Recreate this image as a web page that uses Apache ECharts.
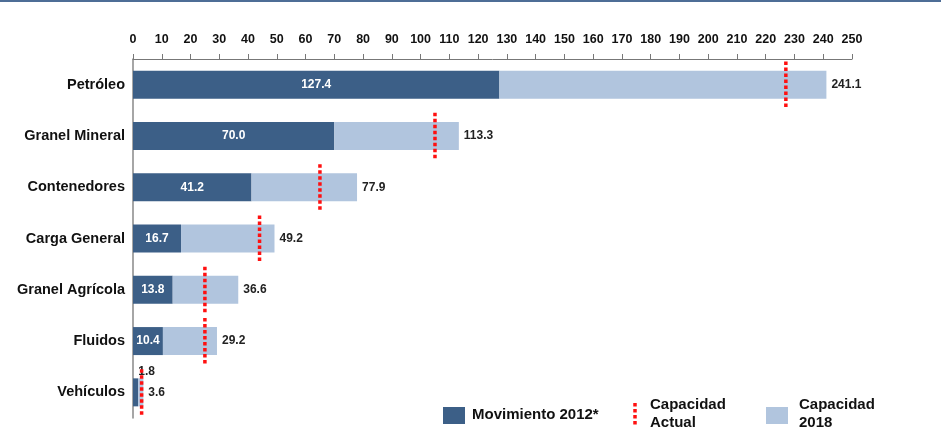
<!DOCTYPE html>
<html>
<head>
<meta charset="utf-8" />
<script src="https://cdn.jsdelivr.net/npm/echarts@6/dist/echarts.min.js"></script>
<title>Capacidad portuaria</title>
<style>
  html, body { margin: 0; padding: 0; background: #fff; }
</style>
</head>
<body>
<div id="main" style="width: 941px;height:435px;"></div>
<script type="text/javascript">
// datos
var categorias = ['Petróleo', 'Granel Mineral', 'Contenedores', 'Carga General', 'Granel Agrícola', 'Fluidos', 'Vehículos'];
var movimiento2012 = [127.4, 70.0, 41.2, 16.7, 13.8, 10.4, 1.8];
var capacidad2018 = [241.1, 113.3, 77.9, 49.2, 36.6, 29.2, 3.6];
var capacidadActual = [227, 105, 65, 44, 25, 25, 3];
var ticksEje = [0, 250, 10]; // min, max, intervalo

var oscuro = '#3c5f87';
var claro = '#b1c5de';
var rojo = '#ff1010';

// parte clara = diferencia hasta la capacidad 2018
var resto = capacidad2018.map(function (v, i) { return +(v - movimiento2012[i]).toFixed(1); });

var dom = document.getElementById('main');
var myChart = echarts.init(dom);

var option = {
  animation: false,
  grid: { left: 133, right: 89, top: 59, bottom: 17, containLabel: false },
  xAxis: {
    type: 'value',
    position: 'top',
    min: ticksEje[0],
    max: ticksEje[1],
    interval: ticksEje[2],
    axisLine: { show: true, lineStyle: { color: '#777', width: 1 } },
    axisTick: { show: true, length: 5, lineStyle: { color: '#777' } },
    axisLabel: {
      margin: 13,
      color: '#111',
      fontSize: 12.5,
      fontWeight: 'bold',
      fontFamily: '"Liberation Sans Narrow", "Arial Narrow", sans-serif'
    },
    splitLine: { show: false }
  },
  yAxis: {
    type: 'category',
    inverse: true,
    data: categorias,
    axisLine: { show: true, lineStyle: { color: '#888', width: 1.5 } },
    axisTick: { show: false },
    axisLabel: {
      margin: 8,
      color: '#111',
      fontSize: 14.5,
      fontWeight: 'bold',
      fontFamily: '"Liberation Sans", Arial, sans-serif'
    }
  },
  series: [
    {
      name: 'Movimiento 2012*',
      type: 'bar',
      stack: 'a',
      barWidth: 28,
      itemStyle: { color: oscuro },
      label: {
        show: true,
        position: 'inside',
        color: '#fff',
        fontSize: 12,
        fontWeight: 'bold',
        fontFamily: '"Liberation Sans", Arial, sans-serif',
        formatter: function (p) { return p.value.toFixed(1); }
      },
      data: movimiento2012.map(function (v, i) {
        if (i === movimiento2012.length - 1) {
          // barra muy corta: etiqueta por encima
          return {
            value: v,
            label: { position: 'top', color: '#222', offset: [11, 4] }
          };
        }
        return v;
      })
    },
    {
      name: 'Capacidad 2018',
      type: 'bar',
      stack: 'a',
      barWidth: 28,
      itemStyle: { color: claro },
      label: {
        show: true,
        position: 'right',
        distance: 5,
        color: '#222',
        fontSize: 12,
        fontWeight: 'bold',
        fontFamily: '"Liberation Sans", Arial, sans-serif',
        formatter: function (p) { return capacidad2018[p.dataIndex].toFixed(1); }
      },
      data: resto
    },
    {
      name: 'Capacidad Actual',
      type: 'custom',
      z: 10,
      renderItem: function (params, api) {
        var c = api.coord([api.value(0), api.value(1)]);
        var h = api.size([0, 1])[1] * 0.45;
        return {
          type: 'line',
          shape: { x1: c[0], y1: c[1] - h, x2: c[0], y2: c[1] + h },
          style: { stroke: rojo, lineWidth: 3.5, lineDash: [3.5, 2.5] }
        };
      },
      encode: { x: 0, y: 1 },
      data: capacidadActual.map(function (v, i) { return [v, i]; })
    }
  ],
  graphic: [
    { type: 'rect', shape: { x: 0, y: 0, width: 941, height: 2 }, style: { fill: '#4d6d96' } },
    // leyenda
    { type: 'rect', shape: { x: 443, y: 407, width: 22, height: 17 }, style: { fill: oscuro } },
    { type: 'text', x: 472, y: 415, style: { text: 'Movimiento 2012*', fill: '#111', font: 'bold 15px "Liberation Sans", Arial, sans-serif', verticalAlign: 'middle' } },
    { type: 'line', shape: { x1: 635, y1: 403, x2: 635, y2: 427 }, style: { stroke: rojo, lineWidth: 3.5, lineDash: [3.5, 2.5] } },
    { type: 'text', x: 650, y: 414, style: { text: 'Capacidad\nActual', fill: '#111', font: 'bold 15px "Liberation Sans", Arial, sans-serif', verticalAlign: 'middle', lineHeight: 18 } },
    { type: 'rect', shape: { x: 766, y: 407, width: 22, height: 17 }, style: { fill: claro } },
    { type: 'text', x: 799, y: 414, style: { text: 'Capacidad\n2018', fill: '#111', font: 'bold 15px "Liberation Sans", Arial, sans-serif', verticalAlign: 'middle', lineHeight: 18 } }
  ]
};
myChart.setOption(option);
</script>
</body>
</html>
